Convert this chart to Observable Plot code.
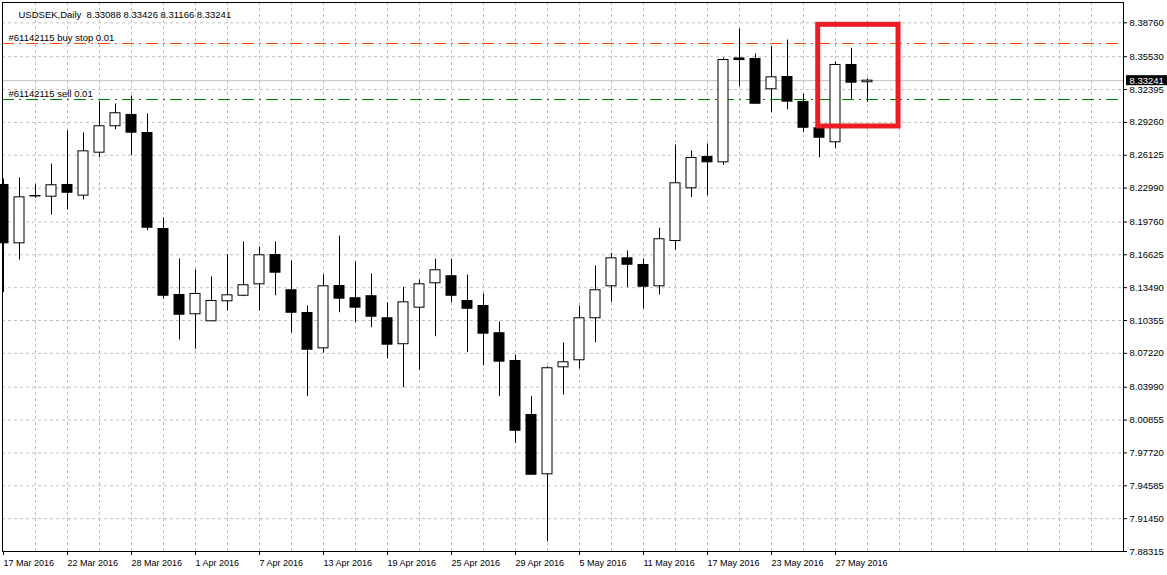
<!DOCTYPE html>
<html>
<head>
<meta charset="utf-8">
<script src="https://cdn.jsdelivr.net/npm/d3@7"></script>
<script src="https://cdn.jsdelivr.net/npm/@observablehq/plot@0.6"></script>
<style>
  html, body { margin: 0; padding: 0; background: #fff; }
  #chart svg { display: block; }
</style>
</head>
<body>
<div id="chart"></div>
<script>
// ---------------- data ----------------
const symbolTitle = "USDSEK,Daily  8.33088 8.33426 8.31166 8.33241";

const opens = [8.2329, 8.1772, 8.2224, 8.2217, 8.2329, 8.2227, 8.2637, 8.2889, 8.2997, 8.2825,
  8.1909, 8.1279, 8.1095, 8.1028, 8.1219, 8.1272, 8.1381, 8.1661, 8.1324, 8.1107,
  8.0770, 8.1365, 8.1248, 8.1267, 8.1057, 8.0809, 8.1158, 8.1391, 8.1458, 8.1222,
  8.1174, 8.0914, 8.0649, 8.0134, 7.9568, 8.0589, 8.0656, 8.1057, 8.1362, 8.1629,
  8.1565, 8.1362, 8.1794, 8.2297, 8.2596, 8.2545, 8.3536, 8.3531, 8.3242, 8.3359,
  8.3121, 8.2870, 8.2736, 8.3474, 8.33088];
const highs = [8.2386, 8.2395, 8.2329, 8.2529, 8.2844, 8.2825, 8.3124, 8.3102, 8.3178, 8.3006,
  8.2014, 8.1623, 8.1518, 8.1451, 8.1664, 8.1785, 8.1737, 8.1785, 8.1604, 8.1174,
  8.1470, 8.1842, 8.1594, 8.1479, 8.1203, 8.1353, 8.1422, 8.1620, 8.1620, 8.1470,
  8.1289, 8.1021, 8.0707, 8.0309, 8.0595, 8.0821, 8.1174, 8.1556, 8.1677, 8.1699,
  8.1623, 8.1916, 8.2710, 8.2653, 8.2720, 8.3541, 8.3817, 8.3579, 8.3648, 8.3712,
  8.3197, 8.2911, 8.3502, 8.3633, 8.33426];
const lows = [8.1301, 8.1613, 8.2202, 8.2042, 8.2090, 8.2186, 8.2589, 8.2856, 8.2608, 8.1893,
  8.1241, 8.0850, 8.0761, 8.1026, 8.1129, 8.1263, 8.1129, 8.1272, 8.0916, 8.0309,
  8.0723, 8.1110, 8.1015, 8.0967, 8.0671, 8.0395, 8.0563, 8.0881, 8.1206, 8.0729,
  8.0604, 8.0309, 7.9864, 7.9560, 7.8925, 8.0325, 8.0573, 8.0824, 8.1212, 8.1349,
  8.1145, 8.1279, 8.1708, 8.2208, 8.2227, 8.2517, 8.3267, 8.3104, 8.3019, 8.3047,
  8.2828, 8.2589, 8.2675, 8.3146, 8.31166];
const closes = [8.1772, 8.2211, 8.2219, 8.2326, 8.2255, 8.2650, 8.2889, 8.3013, 8.2828, 8.1921,
  8.1272, 8.1091, 8.1289, 8.1222, 8.1276, 8.1372, 8.1658, 8.1492, 8.1110, 8.0757,
  8.1362, 8.1244, 8.1158, 8.1072, 8.0805, 8.1209, 8.1381, 8.1515, 8.1272, 8.1148,
  8.0910, 8.0643, 7.9984, 7.9564, 8.0580, 8.0637, 8.1057, 8.1324, 8.1629, 8.1568,
  8.1358, 8.1811, 8.2345, 8.2586, 8.2545, 8.3521, 8.3521, 8.3104, 8.3356, 8.3124,
  8.2875, 8.2780, 8.3474, 8.3305, 8.33241];

const tickBars = [0, 4, 8, 12, 16, 20, 24, 28, 32, 36, 40, 44, 48, 52];
const tickLabels = ["17 Mar 2016", "22 Mar 2016", "28 Mar 2016", "1 Apr 2016", "7 Apr 2016",
  "13 Apr 2016", "19 Apr 2016", "25 Apr 2016", "29 Apr 2016", "5 May 2016", "11 May 2016",
  "17 May 2016", "23 May 2016", "27 May 2016"];

const priceTicks = [8.38760, 8.35530, 8.32395, 8.29260, 8.26125, 8.22990, 8.19760, 8.16625,
  8.13490, 8.10355, 8.07220, 8.03990, 8.00855, 7.97720, 7.94585, 7.91450, 7.88315];

const bidPrice = 8.33241;
const orderLabels = ["#61142115 buy stop 0.01", "#61142115 sell 0.01"];
const orderPrices = [8.36788, 8.31445];
const orderColors = ["#ff4500", "#008000"];

// highlighted region (bar index / price units)
const boxBars = [50.92, 55.94];
const boxPrices = [8.2887, 8.3857];

// ---------------- chart ----------------
const W = 1167, H = 575;
const yMin = 7.88315, yMax = 8.40700;
const xMin = -0.0625, xMax = 70;
const font = "'Liberation Sans', Arial, sans-serif";

const candles = opens.map((o, i) => ({i, o, h: highs[i], l: lows[i], c: closes[i]}));
const gridBars = d3.range(2, xMax, 2);
const dashDot = "12,5,2,5";

const orderLines = orderPrices.map((p, k) =>
  Plot.ruleY([p], {stroke: orderColors[k], strokeDasharray: dashDot}));
const orderTexts = orderPrices.map((p, k) =>
  Plot.text([p], {frameAnchor: "left", y: d => d, text: () => orderLabels[k], dx: 6, dy: -6,
    textAnchor: "start", fill: "#000"}));

const chart = Plot.plot({
  width: W,
  height: H,
  marginLeft: 2,
  marginRight: 44,
  marginTop: 2,
  marginBottom: 24,
  style: {fontFamily: font, fontSize: "9.5px", color: "#000", background: "#fff", overflow: "visible"},
  x: {domain: [xMin, xMax], ticks: tickBars, tickFormat: () => "", tickSize: 4, label: null},
  y: {domain: [yMin, yMax], ticks: priceTicks, tickFormat: d => d.toFixed(5), axis: "right",
      tickSize: 3, tickPadding: 3, label: null},
  marks: [
    Plot.ruleX(gridBars, {stroke: "#c0c0c0", strokeDasharray: "3,3"}),
    Plot.ruleY(priceTicks, {stroke: "#c0c0c0", strokeDasharray: "3,3"}),
    Plot.ruleY([bidPrice], {stroke: "#c0c0c0"}),
    ...orderLines,
    ...orderTexts,
    Plot.text([symbolTitle], {frameAnchor: "top-left", text: d => d, dx: 16, dy: 9,
      textAnchor: "start", fill: "#000"}),
    Plot.ruleX(candles, {x: "i", y1: "l", y2: "h", stroke: "#000"}),
    Plot.rect(candles, {
      x1: d => d.i - 5 / 16, x2: d => d.i + 5 / 16,
      y1: "o", y2: "c",
      fill: d => (d.c >= d.o ? "#fff" : "#000"),
      stroke: "#000"
    }),
    Plot.rect([0], {x1: () => boxBars[0], x2: () => boxBars[1],
      y1: () => boxPrices[0], y2: () => boxPrices[1],
      fill: "none", stroke: "#ee1c24", strokeWidth: 5}),
    Plot.frame({stroke: "#000"}),
    Plot.text(tickBars, {x: d => d, y: () => yMin, text: (d, k) => tickLabels[k],
      textAnchor: "start", dy: 12, dx: 0, fontSize: 9, fill: "#000"}),
    Plot.text([bidPrice], {x: () => xMax, y: d => d, text: d => d.toFixed(5), dx: 6,
      textAnchor: "start", fill: "#fff"})
  ]
});

document.getElementById("chart").appendChild(chart);

// black tag behind the current bid price on the price scale
const yPix = chart.scale("y").apply(bidPrice);
const xPix = chart.scale("x").apply(xMax);
const textGroups = chart.querySelectorAll('g[aria-label="text"]');
const tagGroup = textGroups[textGroups.length - 1];
d3.select(chart).append("rect")
  .attr("x", xPix + 3)
  .attr("y", yPix - 5)
  .attr("width", W - xPix - 3)
  .attr("height", 10)
  .attr("fill", "#000");
chart.appendChild(tagGroup);
</script>
</body>
</html>
